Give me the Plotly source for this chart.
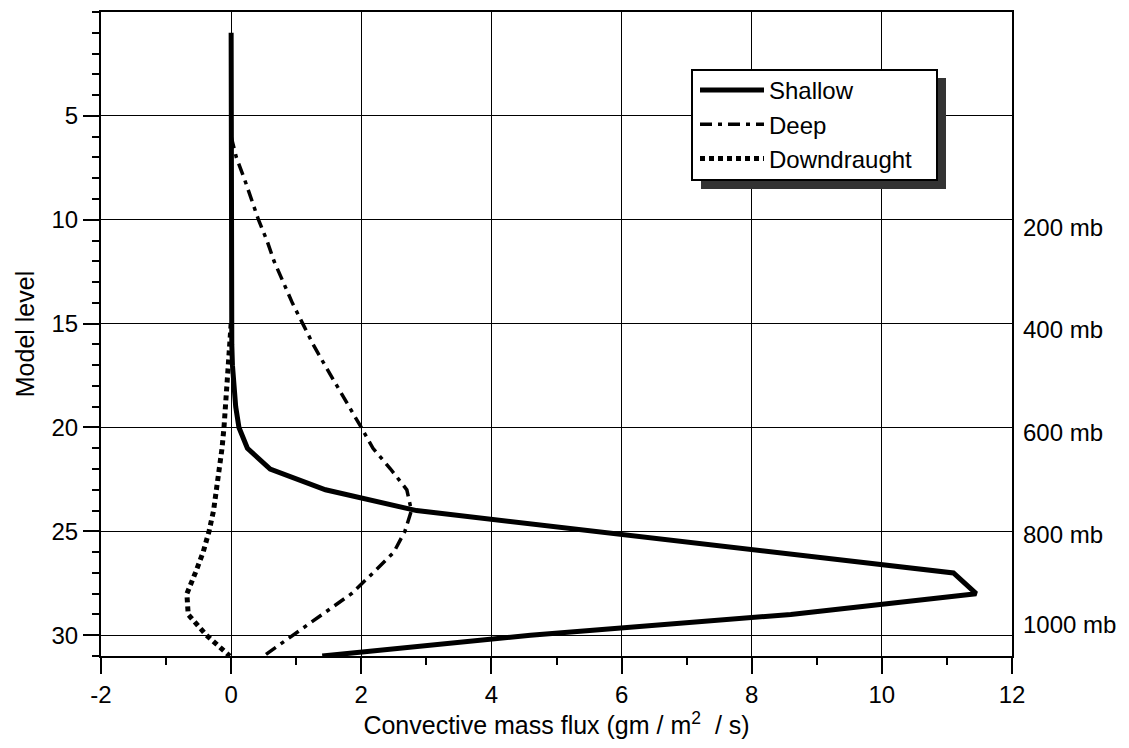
import plotly.graph_objects as go

# ---------------- data ----------------
shallow_levels = list(range(1, 32))
shallow_flux = [0.0, 0.0, 0.0, 0.0, 0.0, 0.0, 0.0, 0.0, 0.0, 0.0,
                0.0, 0.0, 0.0, 0.0, 0.0, 0.01, 0.02, 0.04, 0.07, 0.12,
                0.25, 0.6, 1.45, 2.85, 5.6, 8.4, 11.1, 11.45, 8.6, 4.6, 1.4]

deep_levels = list(range(6, 32))
deep_flux = [0.0, 0.08, 0.2, 0.31, 0.42, 0.55, 0.66, 0.8, 0.94, 1.1,
             1.26, 1.44, 1.63, 1.82, 2.0, 2.18, 2.45, 2.7, 2.77, 2.67,
             2.5, 2.18, 1.85, 1.4, 0.95, 0.5]

down_levels = list(range(15, 32))
down_flux = [0.0, -0.02, -0.04, -0.06, -0.08, -0.11, -0.14, -0.18, -0.22,
             -0.27, -0.34, -0.43, -0.55, -0.68, -0.66, -0.38, -0.02]

pressure_labels = ["200 mb", "400 mb", "600 mb", "800 mb", "1000 mb"]
pressure_levels = [10.35, 15.3, 20.25, 25.15, 29.5]

y_tickvals = [5, 10, 15, 20, 25, 30]
y_ticktext = ["5", "10", "15", "20", "25", "30"]
x_tickvals = [-2, 0, 2, 4, 6, 8, 10, 12]
x_ticktext = ["-2", "0", "2", "4", "6", "8", "10", "12"]

FONT = "Arial, 'Liberation Sans', sans-serif"

fig = go.Figure()
fig.add_trace(go.Scatter(x=shallow_flux, y=shallow_levels, mode="lines", name="Shallow",
                         line=dict(color="black", width=5)))
fig.add_trace(go.Scatter(x=deep_flux, y=deep_levels, mode="lines", name="Deep",
                         line=dict(color="black", width=3.5, dash="12px,6px,4px,6px")))
fig.add_trace(go.Scatter(x=down_flux, y=down_levels, mode="lines", name="Downdraught",
                         line=dict(color="black", width=5, dash="5px,4px")))

# page body has an 8px margin: build the figure in page coordinates minus 8
OFF = 8
W, H = 1129 - 2 * OFF, 748 - 2 * OFF
L, T = 101 - OFF, 12 - OFF
pw, ph = 911, 644
R, B = W - L - pw, H - T - ph


def px_x(p):
    return (p - OFF - L) / pw


def px_y(p):
    return 1 - (p - OFF - T) / ph


# legend frame: drop shadow, then white box with black border
fig.add_shape(type="rect", xref="paper", yref="paper",
              x0=px_x(701), x1=px_x(946), y0=px_y(189), y1=px_y(78),
              fillcolor="#333333", line=dict(width=0), layer="above")
fig.add_shape(type="rect", xref="paper", yref="paper",
              x0=px_x(692), x1=px_x(937), y0=px_y(180), y1=px_y(70),
              fillcolor="white", line=dict(color="black", width=2), layer="above")

for lab, lev in zip(pressure_labels, pressure_levels):
    fig.add_annotation(text=lab, x=1.0, xref="paper", y=lev, yref="y",
                       xanchor="left", yanchor="middle", xshift=9, showarrow=False,
                       font=dict(family=FONT, size=24, color="black"))

fig.update_layout(
    width=W, height=H,
    margin=dict(l=L, r=R, t=T, b=B, autoexpand=False),
    paper_bgcolor="white", plot_bgcolor="white",
    font=dict(family=FONT, size=24, color="black"),
    legend=dict(x=px_x(695), y=px_y(68), xanchor="left", yanchor="top",
                bgcolor="rgba(0,0,0,0)", borderwidth=0,
                font=dict(family=FONT, size=24, color="black"),
                itemwidth=64, tracegroupgap=0),
    showlegend=True,
)

fig.update_xaxes(
    range=[-2, 12], tickmode="array", tickvals=x_tickvals, ticktext=x_ticktext,
    ticks="outside", ticklen=16, tickwidth=1.5, tickcolor="black",
    showline=True, linecolor="black", linewidth=2, mirror=True,
    showgrid=True, gridcolor="black", gridwidth=1, zeroline=False,
    minor=dict(tickmode="linear", tick0=-2, dtick=1, ticks="outside", ticklen=7,
               tickwidth=1.5, tickcolor="black", showgrid=False),
    tickfont=dict(family=FONT, size=24),
    title=dict(text="Convective mass flux (gm / m<sup>2</sup> \u00a0/ s)",
               font=dict(family=FONT, size=25), standoff=10),
)
fig.update_yaxes(
    range=[31, 0], tickmode="array", tickvals=y_tickvals, ticktext=y_ticktext,
    ticks="outside", ticklen=16, tickwidth=1.5, tickcolor="black",
    showline=True, linecolor="black", linewidth=2, mirror=True,
    showgrid=True, gridcolor="black", gridwidth=1, zeroline=False,
    minor=dict(tickmode="linear", tick0=0, dtick=1, ticks="outside", ticklen=7,
               tickwidth=1.5, tickcolor="black", showgrid=False),
    tickfont=dict(family=FONT, size=24),
    title=dict(text="Model level", font=dict(family=FONT, size=25), standoff=10),
)

fig.write_html("out.html")
